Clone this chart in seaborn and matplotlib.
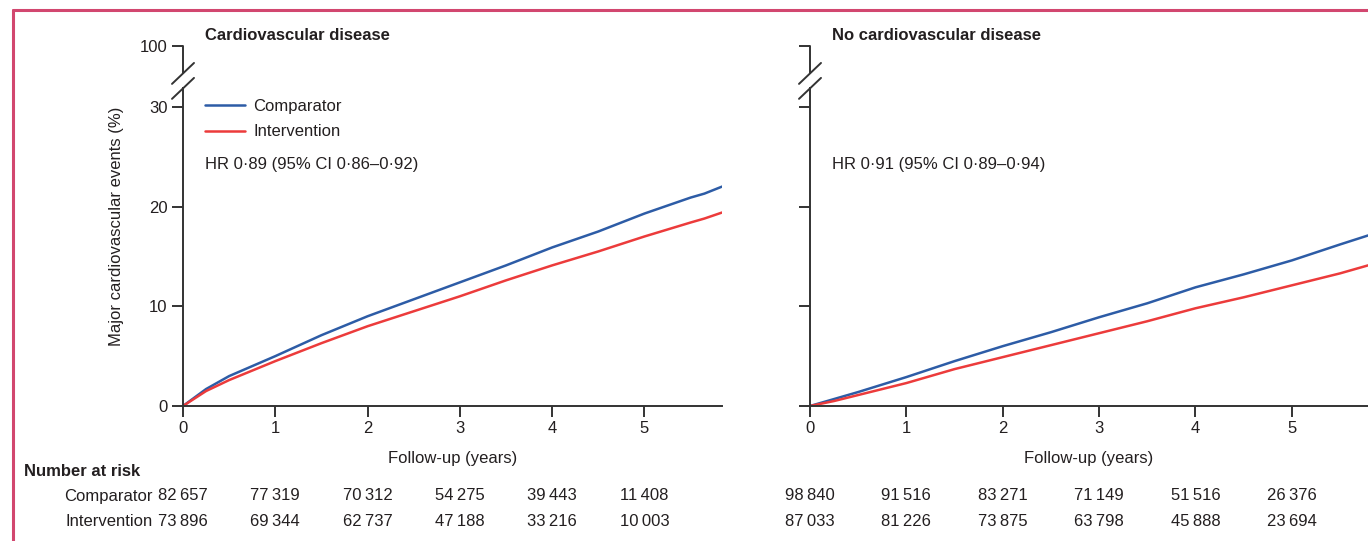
import numpy as np
import pandas as pd
import seaborn as sns
import matplotlib
matplotlib.use("Agg")
import matplotlib.pyplot as plt
from matplotlib.lines import Line2D
import matplotlib.transforms as mtransforms

# ---------------- data ----------------
groups = ["Comparator", "Intervention"]
panel_titles = ["Cardiovascular disease", "No cardiovascular disease"]
hr_texts = ["HR 0·89 (95% CI 0·86–0·92)", "HR 0·91 (95% CI 0·89–0·94)"]

t_cvd = [0, 0.25, 0.5, 1, 1.5, 2, 2.5, 3, 3.5, 4, 4.5, 5, 5.5, 5.65, 5.84]
cvd_comparator = [0, 1.7, 3.0, 5.0, 7.1, 9.0, 10.7, 12.4, 14.1, 15.9, 17.5, 19.3, 20.9, 21.3, 22.0]
cvd_intervention = [0, 1.5, 2.6, 4.5, 6.3, 8.0, 9.5, 11.0, 12.6, 14.1, 15.5, 17.0, 18.4, 18.8, 19.4]

t_nocvd = [0, 0.25, 0.5, 1, 1.5, 2, 2.5, 3, 3.5, 4, 4.5, 5, 5.5, 5.79]
nocvd_comparator = [0, 0.7, 1.4, 2.9, 4.5, 6.0, 7.4, 8.9, 10.3, 11.9, 13.2, 14.6, 16.2, 17.1]
nocvd_intervention = [0, 0.5, 1.1, 2.3, 3.7, 4.9, 6.1, 7.3, 8.5, 9.8, 10.9, 12.1, 13.3, 14.1]

risk_years = [0, 1, 2, 3, 4, 5]
risk_cvd_comparator = ["82\u2009657", "77\u2009319", "70\u2009312", "54\u2009275", "39\u2009443", "11\u2009408"]
risk_cvd_intervention = ["73\u2009896", "69\u2009344", "62\u2009737", "47\u2009188", "33\u2009216", "10\u2009003"]
risk_nocvd_comparator = ["98\u2009840", "91\u2009516", "83\u2009271", "71\u2009149", "51\u2009516", "26\u2009376"]
risk_nocvd_intervention = ["87\u2009033", "81\u2009226", "73\u2009875", "63\u2009798", "45\u2009888", "23\u2009694"]

y_ticks = [0, 10, 20, 30]
y_ticklabels = ["0", "10", "20", "30"]
y_break_label = "100"

# ---------------- style ----------------
sns.set_theme(style="ticks")
plt.rcParams["font.family"] = ["Liberation Sans Narrow", "Liberation Sans", "DejaVu Sans"]
TXT = "#231f20"
AX = "#333333"
BLUE = "#2d5ca6"
RED = "#ec3b3b"
FS = 12

W, H = 1368, 541
fig = plt.figure(figsize=(W / 100, H / 100), dpi=100)

def px_rect(left, right, y0, ytop):
    return [left / W, 1 - y0 / H, (right - left) / W, (y0 - ytop) / H]

y_top_val = 36.1  # position used for the "100" tick above the break
panels = [
    dict(rect=px_rect(183, 722, 406, 46), xmax=5.84, t=t_cvd,
         comp=cvd_comparator, inter=cvd_intervention,
         rc=risk_cvd_comparator, ri=risk_cvd_intervention, labels=True),
    dict(rect=px_rect(810, 1368, 406, 46), xmax=5.79, t=t_nocvd,
         comp=nocvd_comparator, inter=nocvd_intervention,
         rc=risk_nocvd_comparator, ri=risk_nocvd_intervention, labels=False),
]

for i, p in enumerate(panels):
    ax = fig.add_axes(p["rect"])
    df = pd.DataFrame({
        "t": list(p["t"]) * 2,
        "risk": list(p["comp"]) + list(p["inter"]),
        "group": [groups[0]] * len(p["t"]) + [groups[1]] * len(p["t"]),
    })
    sns.lineplot(data=df, x="t", y="risk", hue="group", hue_order=groups,
                 palette=[BLUE, RED], lw=1.8, ax=ax, legend=(i == 0))
    ax.set_xlim(0, p["xmax"])
    ax.set_ylim(0, y_top_val)
    ax.set_xlabel("")
    ax.set_ylabel("")
    ax.set_xticks(risk_years)
    ax.set_xticklabels([str(v) for v in risk_years])
    ax.set_yticks(y_ticks + [y_top_val])
    if p["labels"]:
        ax.set_yticklabels(y_ticklabels + [y_break_label])
    else:
        ax.set_yticklabels([])
    ax.tick_params(axis="both", direction="out", length=8, width=1.4, color=AX,
                   labelsize=FS, labelcolor=TXT, pad=3)
    for s in ["top", "right"]:
        ax.spines[s].set_visible(False)
    for s in ["left", "bottom"]:
        ax.spines[s].set_color(AX)
        ax.spines[s].set_linewidth(1.4)
    # broken y axis
    low_b, up_b = 31.85, 33.35
    ax.spines["left"].set_bounds(0, low_b)
    bt = mtransforms.blended_transform_factory(ax.transAxes, ax.transData)
    ax.plot([0, 0], [up_b, y_top_val], color=AX, lw=1.4, clip_on=False, transform=bt)
    wpx = p["rect"][2] * W
    dx = 11 / wpx
    for yc in (low_b, up_b):
        ax.plot([-dx, dx], [yc - 1.05, yc + 1.05], color=AX, lw=1.4,
                clip_on=False, transform=bt)

    # title, HR text
    ax.text(22 / wpx, (406 - 36) / 360, panel_titles[i], transform=ax.transAxes,
            fontsize=FS, fontweight="bold", color=TXT, ha="left", va="center")
    ax.text(22 / wpx, (406 - 165) / 360, hr_texts[i], transform=ax.transAxes,
            fontsize=FS, color=TXT, ha="left", va="center")
    ax.text(0.5, (406 - 459) / 360, "Follow-up (years)", transform=ax.transAxes,
            fontsize=FS, color=TXT, ha="center", va="center")

    # numbers at risk
    rt = mtransforms.blended_transform_factory(ax.transData, ax.transAxes)
    for yr, a, b in zip(risk_years, p["rc"], p["ri"]):
        ax.text(yr, (406 - 496) / 360, a, transform=rt, fontsize=FS, color=TXT,
                ha="center", va="center", clip_on=False)
        ax.text(yr, (406 - 521) / 360, b, transform=rt, fontsize=FS, color=TXT,
                ha="center", va="center", clip_on=False)
    if i == 0:
        ax.text(-0.33, (406 - 496) / 360, groups[0], transform=rt, fontsize=FS,
                color=TXT, ha="right", va="center")
        ax.text(-0.33, (406 - 521) / 360, groups[1], transform=rt, fontsize=FS,
                color=TXT, ha="right", va="center")
        handles, labels = ax.get_legend_handles_labels()
        ax.legend(handles, labels, loc="upper left",
                  bbox_to_anchor=(22 / wpx, (406 - 99) / 360), frameon=False,
                  fontsize=FS, handlelength=2.4, handletextpad=0.5,
                  labelspacing=0.63, borderpad=0, borderaxespad=0,
                  labelcolor=TXT)

fig.text(24 / W, 1 - 471 / H, "Number at risk", fontsize=FS, fontweight="bold",
         color=TXT, ha="left", va="center")
fig.text(117 / W, 1 - 226 / H, "Major cardiovascular events (%)", rotation=90,
         fontsize=FS, color=TXT, ha="center", va="center")

# figure frame (pink)
PINK = "#d2476f"
fig.add_artist(Line2D([13 / W, 13 / W], [0, 1 - 10 / H], color=PINK, lw=2.2,
                      transform=fig.transFigure))
fig.add_artist(Line2D([13 / W, 1], [1 - 10 / H, 1 - 10 / H], color=PINK, lw=2.2,
                      transform=fig.transFigure))

fig.savefig("out.png", dpi=100)
